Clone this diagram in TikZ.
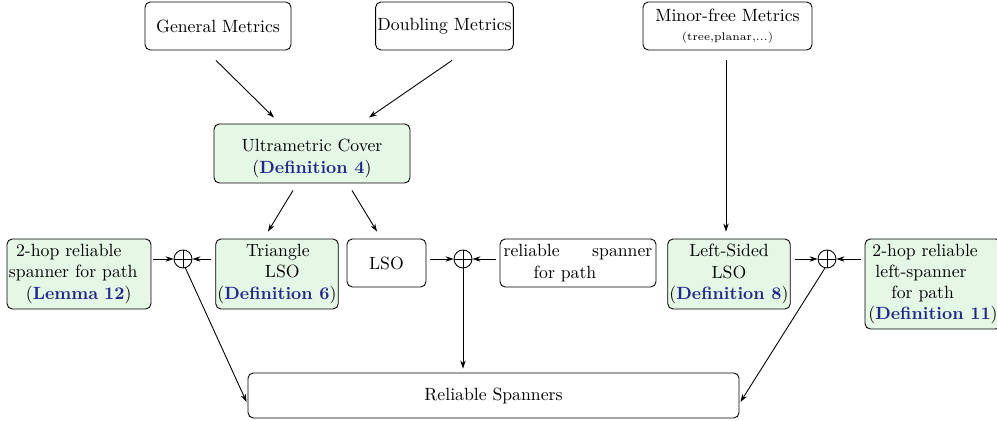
\documentclass[tikz,border=0pt]{standalone}
\usetikzlibrary{arrows.meta,calc}
\definecolor{boxgreen}{RGB}{229,247,229}
\definecolor{linkblue}{RGB}{35,40,140}
\def\pxu{0.5648pt}
\newcommand{\dref}[1]{(\textcolor{linkblue}{\textbf{#1}})}
\begin{document}
\begin{tikzpicture}[x=0.5648pt,y=-0.5648pt,
  box/.style={draw, rounded corners=3pt, line width=0.5pt, align=center, inner sep=1pt},
  gbox/.style={box, fill=boxgreen},
  plain/.style={align=center, inner sep=0pt},
  arr/.style={-{Stealth[length=4.5pt,width=3pt]}, line width=0.5pt},
  opl/.style={circle, draw, line width=0.5pt, minimum size=18*\pxu, inner sep=0pt,
    path picture={\draw[line width=0.5pt] (path picture bounding box.north) -- (path picture bounding box.south)
      (path picture bounding box.west) -- (path picture bounding box.east);}}
]
\useasboundingbox (0,0) rectangle (997,421);

\node[box, minimum width=146*\pxu, minimum height=48*\pxu] (gm) at (218,26) {General Metrics};
\node[box, minimum width=135*\pxu, minimum height=48*\pxu] (dm) at (444.5,26) {Doubling Metrics};
\node[box, minimum width=169*\pxu, minimum height=48*\pxu] (mf) at (727.5,26) {Minor-free Metrics\\[-1pt]{\fontsize{6.3}{7}\selectfont (tree,planar,...)}};
\node[gbox, minimum width=196*\pxu, minimum height=59*\pxu] (uc) at (312,153.5) {};
\node[plain] (ucT) at ($(uc.center)+(0,5)$) {Ultrametric Cover\\\dref{Definition 4}};
\node[gbox, minimum width=120*\pxu, minimum height=70*\pxu] (tl) at (277,274) {\hspace*{1pt}Triangle\\\hspace*{6pt}LSO\\\dref{Definition 6}};
\node[box, minimum width=79*\pxu, minimum height=48*\pxu] (lso) at (386.5,263) {LSO};
\node[box, minimum width=156*\pxu, minimum height=48*\pxu] (rs) at (578,263) {\parbox{84pt}{reliable\hfill spanner\\\hspace*{17pt}for path}};
\node[gbox, minimum width=122*\pxu, minimum height=70*\pxu] (ls) at (729,274) {Left-Sided\\LSO\\\dref{Definition 8}};
\node[gbox, align=left, minimum width=136*\pxu, minimum height=90*\pxu] (hl) at (933,284)
  {\hspace*{2.3pt}2-hop reliable\\\hspace*{4pt}left-spanner\\\hspace*{13pt}for path\\\dref{Definition 11}};
\node[gbox, align=left, text width=140*\pxu, inner xsep=2*\pxu, minimum height=70*\pxu] (hs) at (79,274)
  {\hspace*{4pt}2-hop reliable\\spanner for path\\\hspace*{9.6pt}\dref{Lemma 12}};
\node[opl] (o1) at (183,259) {};
\node[opl] (o2) at (463,259) {};
\node[opl] (o3) at (827,259) {};
\node[box, minimum width=491*\pxu, minimum height=45*\pxu] (rel) at (493.5,395.5) {Reliable Spanners};

\draw[arr] ($(gm.south)+(-2,10)$) -- ($(uc.north)+(-38,-6)$);
\draw[arr] ($(dm.south)+(7.5,10)$) -- ($(uc.north)+(57,-6)$);
\draw[arr] ($(uc.south)+(-19,7)$) -- ($(tl.north)+(-9,-7)$);
\draw[arr] ($(uc.south)+(40,7)$) -- ($(lso.north)+(-9.5,-7)$);
\draw[arr] ($(mf.south)+(-1.5,10)$) -- ($(ls.north)+(-3,-7)$);
\draw[arr] ($(hs.east)+(2,-15)$) -- (o1.west);
\draw[arr] ($(tl.west)+(-4,-15)$) -- (o1.east);
\draw[arr] ($(lso.east)+(4,-4)$) -- (o2.west);
\draw[arr] ($(rs.west)+(-4,-4)$) -- (o2.east);
\draw[arr] ($(ls.east)+(4,-15)$) -- (o3.west);
\draw[arr] ($(hl.west)+(-4,-25)$) -- (o3.east);
\draw[arr] (o1.-75) -- ($(rel.west)+(-1,6.5)$);
\draw[arr] (o2.south) -- ($(o2.south |- rel.north)+(0,-4)$);
\draw[arr] (o3.-103) -- ($(rel.east)+(1,6.5)$);
\end{tikzpicture}
\end{document}
